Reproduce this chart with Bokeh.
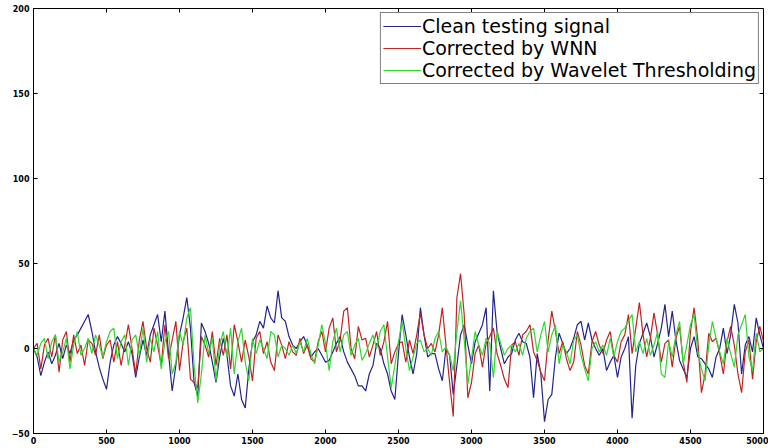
import math
from bokeh.plotting import figure
from bokeh.models import FixedTicker, Range1d
from bokeh.embed import file_html
from bokeh.resources import INLINE

step = 25
clean = [0, -5, -16, -8, -2, -9, -4, 3, -6, 2, -3, 5, 8, 12, 16, 20, 10, -2, -11, -18,
         -24, -8, 2, 7, 3, -2, 4, -3, -17, -5, 5, -4, 8, 14, 20, 4, 22, -3, -25, -10,
         8, 18, 30, 12, -20, -28, 15, 10, 3, -8, -20, -5, 6, -4, -22, -28, -15, -30, -35, -12,
         4, 8, 16, 12, 25, 18, 15, 34, 18, 16, 7, 2, 0, 4, 7, 2, -5, -2, 0, -4,
         -8, -7, -2, 3, 7, -2, -8, -12, -16, -22, -22, -25, -15, -10, 3, 0, -9, -15, -25, -30,
         -3, 20, 8, -5, -15, -3, 24, 8, -5, -3, -3, -12, -19, 0, -4, -27, -10, 8, 14, 2,
         -9, 4, 9, 14, 24, -25, 34, 10, 0, -9, -5, -3, 5, 9, 4, 3, -5, -29, -3, -15,
         -43, -30, -27, -5, 9, 3, -3, 0, 6, 14, 16, 5, 15, 5, 0, -4, 0, -13, -8, -4,
         -17, -5, 0, 7, -41, -10, 3, 9, 15, 7, -5, 3, 12, 26, 7, 22, 5, -7, -12, -17,
         0, 7, -5, -6, -9, -12, -17, -5, 0, 12, -3, 8, 26, 15, -15, 2, 7, -2, 18, 8, 0]
wnn = [0, 3, -12, 2, 6, -5, 8, -14, 5, 10, -8, 8, -3, 2, -10, 5, 3, -4, 8, -6,
       2, 5, -8, 4, -10, 2, 14, 0, -15, 5, 16, 0, -8, 12, 2, -10, 14, -6, 5, 16,
       -13, 4, 12, -18, -20, -23, 7, 2, -5, 10, -10, 6, -4, 8, -12, 14, 4, -8, 5, -5,
       -19, 6, 10, -3, 4, -8, -13, 8, 2, -6, 4, -2, -4, 6, -3, 2, -6, -8, 4, 10,
       -2, 12, 18, -2, 5, 22, 24, 0, -6, 13, 5, 6, -5, 2, 10, -4, 4, 16, -9, -2,
       3, 4, -8, 5, -3, 8, 21, 8, 0, 3, -2, 8, 24, 2, -20, -40, 30, 44, 20, -29,
       -20, -3, 2, -11, 3, 7, 12, -3, -10, -18, -23, 2, 4, -4, 8, 10, 14, -2, -7, -14,
       -19, 5, 22, 10, -3, 4, -6, -13, -8, 10, 2, -10, -15, 4, 10, 2, -3, 5, 10, -4,
       -8, 4, 8, 20, -3, 12, 27, 8, -5, 6, 21, 8, -8, 3, 5, -11, 6, 13, -8, -20,
       10, 24, 5, -26, -15, 9, 4, 6, -3, -15, 4, 13, 2, -15, -26, -2, 5, -18, 4, 13, 4]
wavelet = [0, -4, 3, 6, -6, 4, 8, -8, -2, 6, -12, 2, 10, -4, 0, 6, -3, 8, 2, -5,
           4, 10, 12, -6, 4, 8, -10, 5, 8, -4, 12, -8, 6, -2, 10, -12, 4, 10, -15, -8,
           10, 2, 18, 24, -10, -32, -15, 8, -3, 6, -19, 2, 10, -5, 12, -15, 4, 12, -8, -19,
           6, -3, 5, 0, -6, 10, 8, -5, 2, 0, -4, 2, -3, 4, -2, 6, -3, -9, 2, 14,
           3, -13, 4, 12, -2, 8, 10, -4, 2, 6, -7, -3, 3, 8, 0, 10, 14, -5, -23, -10,
           4, 16, 0, -13, -5, 3, 5, -2, 0, -4, 6, 10, -2, 1, -4, -13, 10, 28, 5, -21,
           -6, 10, 2, -4, 6, 3, -17, 10, 3, -4, 0, 2, -2, 3, -4, 6, 10, 12, -2, 8,
           16, -2, 8, 14, -9, 2, -2, -9, 5, 8, -4, -12, -19, 0, 4, -2, 2, -4, 6, -5,
           4, 10, 12, 16, 20, -2, 4, -3, 6, -4, 2, 10, -15, -17, 4, -5, 8, 16, -9, 2,
           14, 20, -2, -12, -19, 2, 16, 6, -2, -9, 6, -3, -11, 8, 14, 20, -5, -13, 9, -2, 0]
x_ticks = [0, 500, 1000, 1500, 2000, 2500, 3000, 3500, 4000, 4500, 5000]
y_ticks = [-50, 0, 50, 100, 150, 200]
labels = ["Clean testing signal", "Corrected by WNN", "Corrected by Wavelet Thresholding"]
colors = ["#23238f", "#c42222", "#2fd82f"]
x_min, x_max = 0, 5000
y_min, y_max = -50, 200

p = figure(frame_width=730, frame_height=425, output_backend="svg", toolbar_location=None,
           x_range=Range1d(x_min, x_max), y_range=Range1d(y_min, y_max),
           min_border_left=33, min_border_right=5, min_border_top=8, min_border_bottom=15)
p.background_fill_color = "white"
p.border_fill_color = "white"
p.outline_line_color = "black"
p.outline_line_width = 1
p.grid.visible = False

for series, lab, col in zip([clean, wnn, wavelet], labels, colors):
    xs = [i * step for i in range(len(series))]
    p.line(xs, series, line_color=col, line_width=1.2, legend_label=lab)

for ax, ticks in ((p.xaxis[0], x_ticks), (p.yaxis[0], y_ticks)):
    ax.ticker = FixedTicker(ticks=ticks)
    ax.minor_tick_line_color = None
    ax.major_tick_in = 4
    ax.major_tick_out = 0
    ax.axis_line_color = "black"
    ax.major_tick_line_color = "black"
    ax.major_label_text_font = "DejaVu Sans"
    ax.major_label_text_font_style = "bold"
    ax.major_label_text_font_size = "8px"
    ax.major_label_text_color = "black"
p.xaxis[0].major_label_standoff = 3
p.yaxis[0].major_label_standoff = 4

# inward ticks on the top and right edges of the box
p.ray(x=x_ticks, y=[y_max] * len(x_ticks), length=4, length_units="screen",
      angle=-math.pi / 2, line_color="black", line_width=1)
p.ray(x=[x_max] * len(y_ticks), y=y_ticks, length=4, length_units="screen",
      angle=math.pi, line_color="black", line_width=1)

lg = p.legend[0]
lg.location = "top_right"
lg.margin = 4
lg.padding = 2
lg.spacing = 0
lg.border_line_color = "black"
lg.border_line_width = 1
lg.background_fill_color = "white"
lg.background_fill_alpha = 1
lg.label_text_font = "DejaVu Sans"
lg.label_text_font_size = "19px"
lg.label_text_color = "black"
lg.label_standoff = 1
lg.glyph_width = 38
lg.glyph_height = 20
lg.label_height = 20

open("out.html", "w").write(file_html(p, INLINE))
